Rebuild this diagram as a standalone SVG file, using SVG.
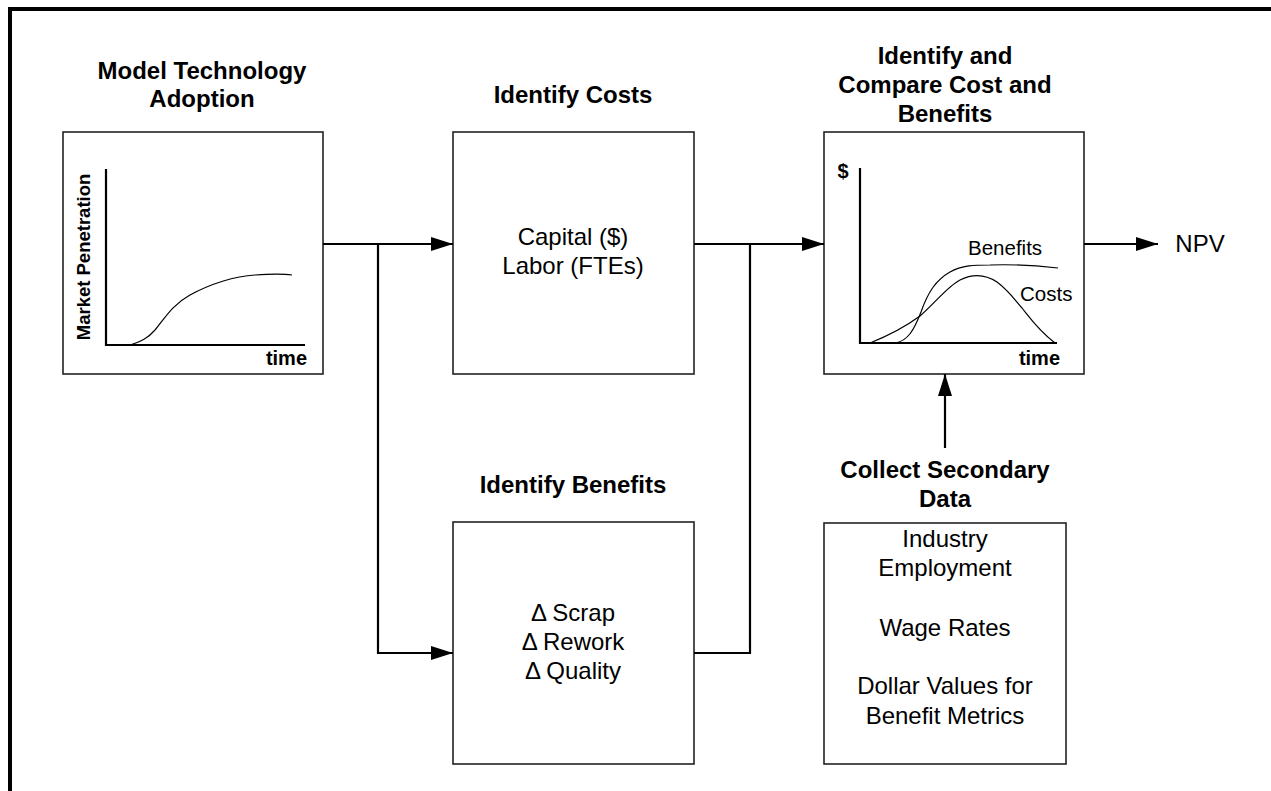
<svg xmlns="http://www.w3.org/2000/svg" width="1271" height="791" viewBox="0 0 1271 791">
<style>
.box{fill:#fff;stroke:#222;stroke-width:1.6}
.h{font-family:"Liberation Sans",Arial,sans-serif;font-weight:bold;font-size:24px;text-anchor:middle;fill:#000}
.t{font-family:"Liberation Sans",Arial,sans-serif;font-size:24px;text-anchor:middle;fill:#000}
.s{font-family:"Liberation Sans",Arial,sans-serif;font-size:20.5px;fill:#000}
.sb{font-family:"Liberation Sans",Arial,sans-serif;font-weight:bold;font-size:20px;fill:#000}
.ax{fill:none;stroke:#000;stroke-width:2.2}
.cv{fill:none;stroke:#000;stroke-width:1.2}
.c{fill:none;stroke:#000;stroke-width:2.2}
</style>
<defs>
<marker id="ah" markerUnits="userSpaceOnUse" markerWidth="22" markerHeight="16" refX="22" refY="7" orient="auto">
<path d="M0,0 L22,7 L0,14 z" fill="#000"/>
</marker>
</defs>
<rect width="1271" height="791" fill="#fff"/>
<path d="M10,791 L10,9 L1271,9" fill="none" stroke="#000" stroke-width="4"/>

<g id="adoption">
<text class="h" x="202" y="79">Model Technology</text>
<text class="h" x="202" y="107">Adoption</text>
<rect class="box" x="63" y="132" width="260" height="242"/>
<path class="ax" d="M106,169 L106,345 L305,345"/>
<path class="cv" d="M130,345 C142,341 148,338 155,330 C165,318 172,305 190,295 C210,284 235,276 255,275 C270,274 285,274 292,275"/>
<text class="sb" x="307" y="365" style="text-anchor:end">time</text>
<text class="sb" x="0" y="0" style="text-anchor:middle;font-size:18.5px" transform="translate(90,257) rotate(-90)">Market Penetration</text>
</g>

<g id="costs">
<text class="h" x="573" y="103">Identify Costs</text>
<rect class="box" x="453" y="132" width="241" height="242"/>
<text class="t" x="573" y="245">Capital ($)</text>
<text class="t" x="573" y="274">Labor (FTEs)</text>
</g>

<g id="benefits">
<text class="h" x="573" y="493">Identify Benefits</text>
<rect class="box" x="453" y="522" width="241" height="242"/>
<text class="t" x="573" y="621">Δ Scrap</text>
<text class="t" x="573" y="650">Δ Rework</text>
<text class="t" x="573" y="679">Δ Quality</text>
</g>

<g id="compare">
<text class="h" x="945" y="64">Identify and</text>
<text class="h" x="945" y="93">Compare Cost and</text>
<text class="h" x="945" y="122">Benefits</text>
<rect class="box" x="824" y="132" width="260" height="242"/>
<path class="ax" d="M860,168 L860,343 L1057,343"/>
<text class="sb" x="843" y="178" style="text-anchor:middle">$</text>
<text class="sb" x="1060" y="365" style="text-anchor:end">time</text>
<path class="cv" d="M895,343 C908,341 914,330 921,312 C928,292 936,280 950,272 C962,265 975,265 990,265 C1015,264 1040,266 1058,268"/>
<path class="cv" d="M870,343 C885,337 905,327 920,316 C935,303 948,286 960,280 C972,274 985,274 997,282 C1008,290 1015,300 1022,308 C1030,318 1038,330 1055,343"/>
<text class="s" x="968" y="255">Benefits</text>
<text class="s" x="1020" y="301">Costs</text>
</g>

<g id="secondary">
<text class="h" x="945" y="478">Collect Secondary</text>
<text class="h" x="945" y="507">Data</text>
<rect class="box" x="824" y="523" width="242" height="241"/>
<text class="t" x="945" y="547">Industry</text>
<text class="t" x="945" y="576">Employment</text>
<text class="t" x="945" y="636">Wage Rates</text>
<text class="t" x="945" y="694">Dollar Values for</text>
<text class="t" x="945" y="724">Benefit Metrics</text>
</g>

<g id="npv">
<text class="t" x="1200" y="252">NPV</text>
</g>

<g id="connectors">
<path class="c" d="M323,244 L453,244" marker-end="url(#ah)"/>
<path class="c" d="M378,244 L378,653 L453,653" marker-end="url(#ah)"/>
<path class="c" d="M694,244 L824,244" marker-end="url(#ah)"/>
<path class="c" d="M694,653 L750,653 L750,244"/>
<path class="c" d="M1084,244 L1158,244" marker-end="url(#ah)"/>
<path class="c" d="M945,448 L945,374" marker-end="url(#ah)"/>
</g>
</svg>
